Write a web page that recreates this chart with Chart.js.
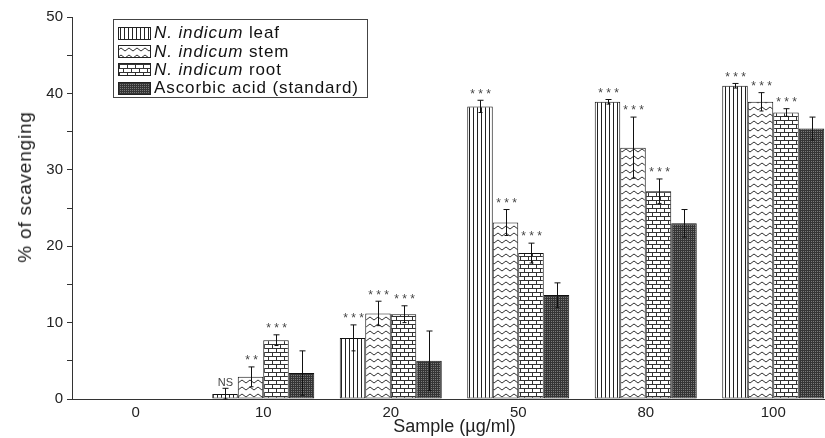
<!DOCTYPE html>
<html>
<head>
<meta charset="utf-8">
<title>% of scavenging</title>
<script src="https://cdn.jsdelivr.net/npm/chart.js@4"></script>
<style>
  body { margin: 0; background: #fff; overflow: hidden; font-family: "Liberation Sans", Arial, sans-serif; }
  #wrap { position: relative; width: 840px; height: 438px; }
  #legendBox {
    position: absolute; left: 113px; top: 19px; width: 255px; height: 79px;
    border: 1px solid #444; background: #fff; padding: 4px 0 0 4px; box-sizing: border-box;
  }
  .legend-row { height: 18.4px; display: flex; align-items: center; font-size: 17px; letter-spacing: 0.9px; color: #111; white-space: nowrap; }
  .legend-row canvas { width: 33px; height: 13px; margin-right: 3px; box-sizing: border-box; border: 1px solid #222; }
  #yTitle {
    position: absolute; left: 25px; top: 187px; transform: translate(-50%, -50%) rotate(-90deg);
    font-size: 19px; letter-spacing: 0.8px; color: #222; white-space: nowrap;
  }
</style>
</head>
<body>
<div id="wrap">
  <canvas id="scavengingChart"></canvas>
  <div id="legendBox"></div>
  <div id="yTitle">% of scavenging</div>
</div>
<script>
// Sample concentrations (ug/ml)
var categories = ['0', '10', '20', '50', '80', '100'];

// % of scavenging
var leafValues = [0, 0.65, 8.0, 38.3, 38.9, 41.0];
var leafErrors = [0, 0.75, 1.7, 0.8, 0.3, 0.3];
var stemValues = [0, 2.9, 11.2, 23.1, 32.9, 38.9];
var stemErrors = [0, 1.3, 1.6, 1.7, 4.0, 1.2];
var rootValues = [0, 7.7, 11.1, 19.1, 27.2, 37.5];
var rootErrors = [0, 0.7, 1.1, 1.3, 1.6, 0.5];
var ascorbicValues = [0, 3.4, 5.0, 13.6, 23.0, 35.4];
var ascorbicErrors = [0, 2.9, 3.9, 1.6, 1.8, 1.5];

// significance marks above each bar
var leafMarks = ['', 'NS', '***', '***', '***', '***'];
var stemMarks = ['', '**', '***', '***', '***', '***'];
var rootMarks = ['', '***', '***', '***', '***', '***'];
var ascorbicMarks = ['', '', '', '', '', ''];

// y axis ticks
var yTicks = [0, 10, 20, 30, 40, 50];

// --- fill patterns (black & white hatching like the original) ---
function newTile(w, h) {
  var c = document.createElement('canvas');
  c.width = w;
  c.height = h;
  return c;
}

function makeLeafPattern() {
  var c = newTile(4, 4);
  var g = c.getContext('2d');
  g.fillStyle = '#fff';
  g.fillRect(0, 0, 4, 4);
  g.fillStyle = '#222';
  g.fillRect(1, 0, 1, 4);
  return g.createPattern(c, 'repeat');
}

function makeStemPattern() {
  var c = newTile(8, 7);
  var g = c.getContext('2d');
  g.fillStyle = '#fff';
  g.fillRect(0, 0, 8, 7);
  g.strokeStyle = '#333';
  g.lineWidth = 1;
  g.beginPath();
  g.moveTo(0, 3.5);
  g.quadraticCurveTo(2, 0.5, 4, 3.5);
  g.quadraticCurveTo(6, 6.5, 8, 3.5);
  g.stroke();
  return g.createPattern(c, 'repeat');
}

function makeRootPattern() {
  var c = newTile(8, 8);
  var g = c.getContext('2d');
  g.fillStyle = '#fff';
  g.fillRect(0, 0, 8, 8);
  g.fillStyle = '#333';
  g.fillRect(0, 0, 8, 1);
  g.fillRect(0, 4, 8, 1);
  g.fillRect(0, 0, 1, 4);
  g.fillRect(4, 4, 1, 4);
  return g.createPattern(c, 'repeat');
}

function makeAscorbicPattern() {
  var c = newTile(2, 2);
  var g = c.getContext('2d');
  g.fillStyle = '#353535';
  g.fillRect(0, 0, 2, 2);
  g.fillStyle = '#7a7a7a';
  g.fillRect(1, 1, 1, 1);
  return g.createPattern(c, 'repeat');
}

var leafFill = makeLeafPattern();
var stemFill = makeStemPattern();
var rootFill = makeRootPattern();
var ascorbicFill = makeAscorbicPattern();

// --- error bars + significance stars ---
var errorBarPlugin = {
  id: 'errorBars',
  afterDatasetsDraw: function(chart) {
    var ctx = chart.ctx;
    var yScale = chart.scales.y;
    ctx.save();
    chart.data.datasets.forEach(function(ds, di) {
      var meta = chart.getDatasetMeta(di);
      meta.data.forEach(function(bar, i) {
        var v = ds.data[i];
        var e = ds.errors[i];
        var x = Math.round(bar.x) + 0.5;
        var top = yScale.getPixelForValue(v + e);
        if (e > 0) {
          var bottom = yScale.getPixelForValue(Math.max(v - e, 0));
          ctx.strokeStyle = '#111';
          ctx.lineWidth = 1;
          ctx.beginPath();
          ctx.moveTo(x, bottom);
          ctx.lineTo(x, top);
          ctx.moveTo(x - 3, top);
          ctx.lineTo(x + 3, top);
          ctx.moveTo(x - 2, bottom);
          ctx.lineTo(x + 2, bottom);
          ctx.stroke();
        }
        var mark = ds.marks[i];
        if (mark) {
          ctx.fillStyle = '#444';
          ctx.textAlign = 'center';
          if (mark === 'NS') {
            ctx.font = '11px "Liberation Sans", Arial, sans-serif';
            ctx.textBaseline = 'bottom';
            ctx.fillText(mark, x, top);
          } else {
            ctx.font = '12px "Liberation Sans", Arial, sans-serif';
            ctx.textBaseline = 'top';
            ctx.fillText(mark.split('').join(' '), x, top - 12);
          }
        }
      });
    });
    ctx.restore();
  }
};

function buildDataset(label, values, errors, marks, fill) {
  return {
    label: label,
    data: values,
    errors: errors,
    marks: marks,
    backgroundColor: fill,
    borderColor: '#111',
    borderWidth: 1,
    borderSkipped: false,
    categoryPercentage: 0.8,
    barPercentage: 1.0
  };
}

var datasets = [
  buildDataset('N. indicum leaf', leafValues, leafErrors, leafMarks, leafFill),
  buildDataset('N. indicum stem', stemValues, stemErrors, stemMarks, stemFill),
  buildDataset('N. indicum root', rootValues, rootErrors, rootMarks, rootFill),
  buildDataset('Ascorbic acid (standard)', ascorbicValues, ascorbicErrors, ascorbicMarks, ascorbicFill)
];

var font = '"Liberation Sans", Arial, sans-serif';

var chart = new Chart(document.getElementById('scavengingChart'), {
  type: 'bar',
  data: { labels: categories, datasets: datasets },
  plugins: [errorBarPlugin],
  options: {
    responsive: true,
    maintainAspectRatio: false,
    animation: false,
    layout: { padding: { top: 17, right: 3, left: 0, bottom: 0 } },
    plugins: {
      legend: { display: false },
      tooltip: { enabled: false }
    },
    scales: {
      x: {
        grid: { display: true, drawOnChartArea: false, drawTicks: false },
        border: { display: true, color: '#333', width: 1 },
        ticks: { color: '#222', font: { family: font, size: 15 }, padding: 5 },
        title: { display: true, text: 'Sample (µg/ml)', color: '#222', font: { family: font, size: 18 }, padding: { top: -3, bottom: 0 } },
        afterFit: function(scale) { scale.height = 39; }
      },
      y: {
        min: 0,
        max: 50,
        afterBuildTicks: function(scale) {
          var list = [];
          for (var v = 0; v <= 50; v += 5) list.push({ value: v });
          scale.ticks = list;
        },
        ticks: {
          color: '#222',
          font: { family: font, size: 15 },
          padding: 4,
          callback: function(value) {
            return yTicks.indexOf(value) >= 0 ? String(value) : '';
          }
        },
        grid: { display: true, drawOnChartArea: false, drawTicks: true, tickLength: 5, color: '#333' },
        border: { display: true, color: '#333', width: 1 },
        title: { display: false },
        afterFit: function(scale) { scale.width = 72; }
      }
    }
  }
});

// --- html legend with italic species name ---
function buildLegend() {
  var box = document.getElementById('legendBox');
  var entries = [
    { fill: leafFill, italic: 'N. indicum', rest: '\u00a0leaf' },
    { fill: stemFill, italic: 'N. indicum', rest: '\u00a0stem' },
    { fill: rootFill, italic: 'N. indicum', rest: '\u00a0root' },
    { fill: ascorbicFill, italic: '', rest: 'Ascorbic acid (standard)' }
  ];
  entries.forEach(function(item) {
    var row = document.createElement('div');
    row.className = 'legend-row';
    var sw = document.createElement('canvas');
    sw.width = 31;
    sw.height = 11;
    var g = sw.getContext('2d');
    g.fillStyle = item.fill;
    g.fillRect(0, 0, 31, 11);
    row.appendChild(sw);
    if (item.italic) {
      var em = document.createElement('i');
      em.textContent = item.italic;
      row.appendChild(em);
    }
    var span = document.createElement('span');
    span.textContent = item.rest;
    row.appendChild(span);
    box.appendChild(row);
  });
}

buildLegend();
</script>
</body>
</html>
